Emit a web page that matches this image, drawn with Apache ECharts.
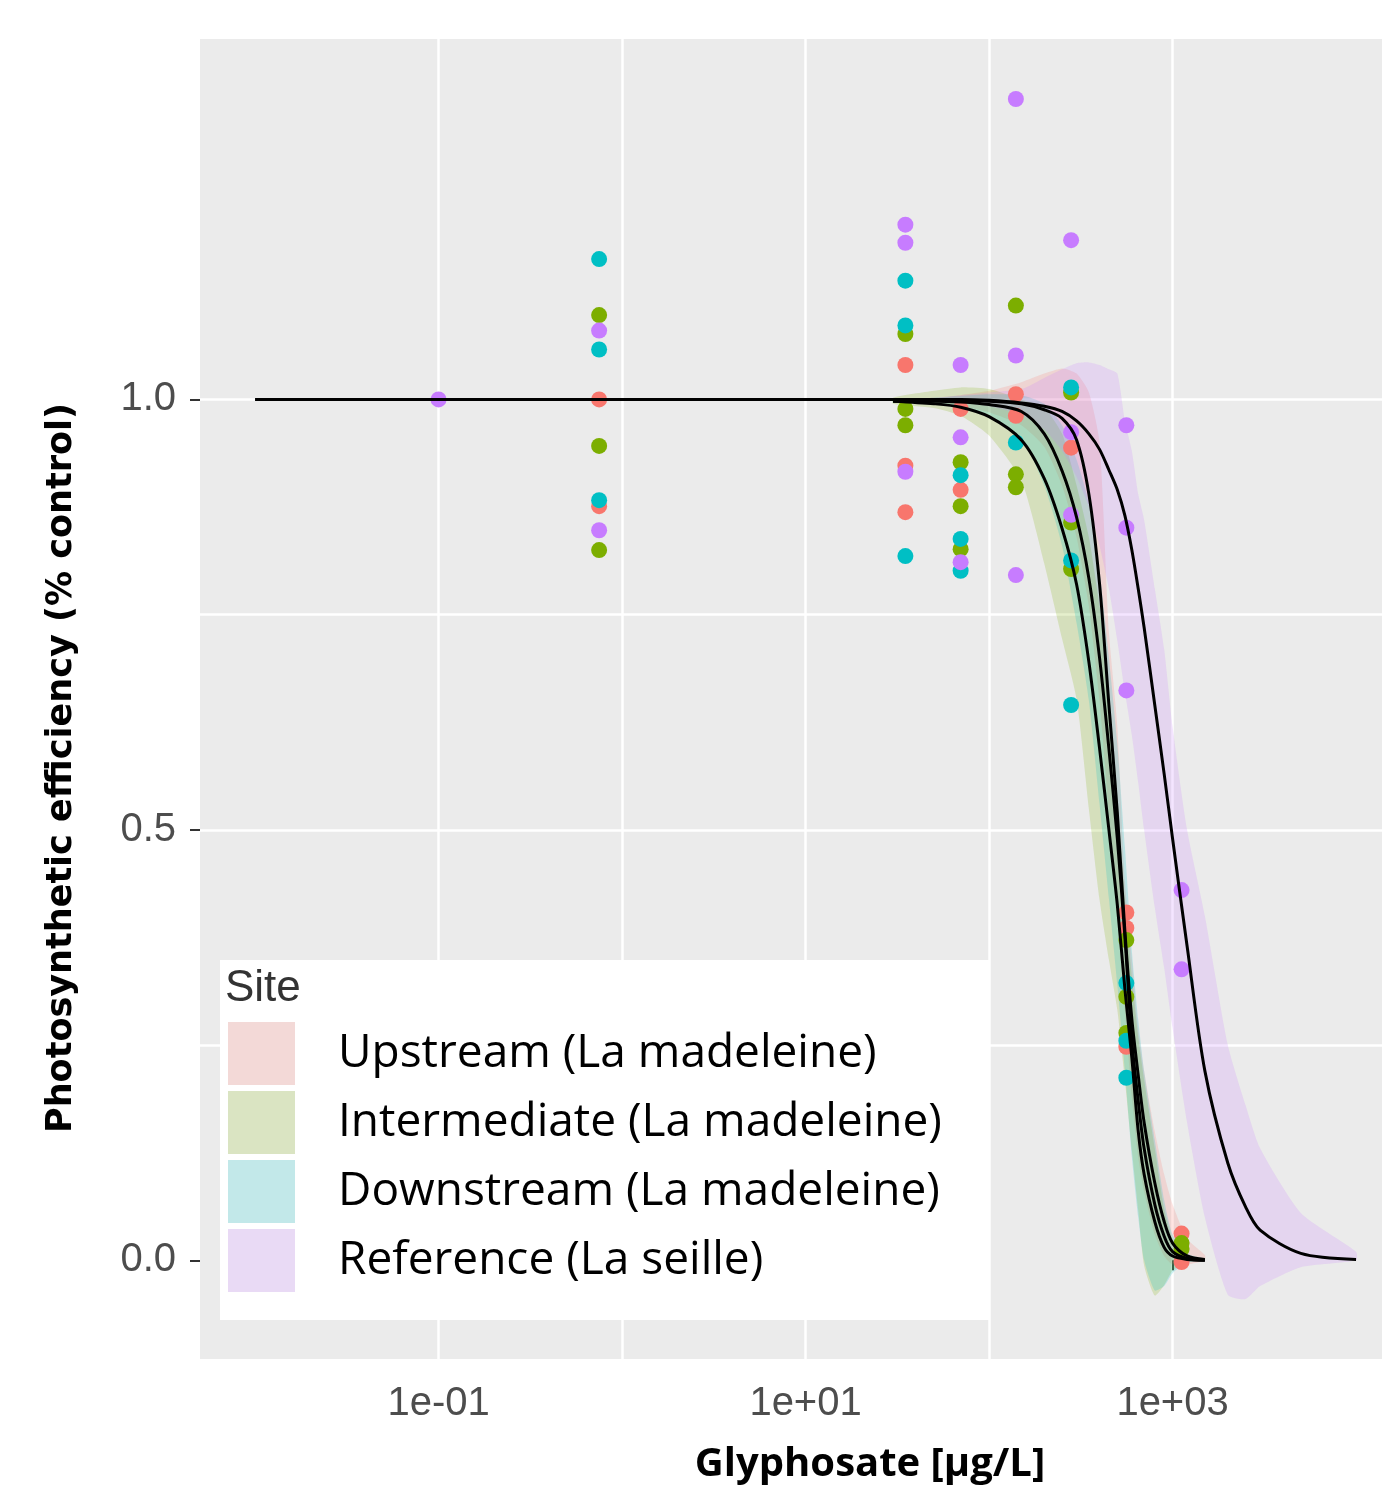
<!DOCTYPE html>
<html>
<head>
<meta charset="utf-8">
<script src="https://cdn.jsdelivr.net/npm/echarts@6/dist/echarts.min.js"></script>
<style>html,body{margin:0;padding:0;background:#fff}#c{width:1382px;height:1486px}</style>
</head>
<body>
<div id="c"></div>
<script>
// ---------- data ----------
const siteNames = ['Upstream (La madeleine)', 'Intermediate (La madeleine)', 'Downstream (La madeleine)', 'Reference (La seille)'];

// observed points [concentration µg/L, efficiency]
const pointsUpstream = [[0.75,1.000],[0.75,0.876],[35,1.040],[35,0.923],[35,0.869],[70,0.989],[70,0.895],[140,1.006],[140,0.981],[280,0.944],[560,0.404],[560,0.386],[560,0.248],[1120,0.031],[1120,-0.002]];
const pointsIntermediate = [[0.75,1.098],[0.75,0.946],[0.75,0.825],[35,1.076],[35,0.989],[35,0.970],[70,0.927],[70,0.876],[70,0.826],[140,1.109],[140,0.913],[140,0.898],[280,1.008],[280,0.857],[280,0.803],[560,0.372],[560,0.306],[560,0.264],[1120,0.020],[1120,0.013]];
const pointsDownstream = [[0.75,1.163],[0.75,1.058],[0.75,0.883],[35,1.138],[35,1.086],[35,0.818],[70,0.912],[70,0.838],[70,0.801],[140,0.950],[280,1.014],[280,0.813],[280,0.645],[560,0.322],[560,0.255],[560,0.212]];
const pointsReference = [[0.1,1.000],[0.75,1.080],[0.75,0.848],[35,1.203],[35,1.182],[35,0.916],[70,1.040],[70,0.956],[70,0.811],[140,1.349],[140,1.051],[140,0.796],[280,1.185],[280,0.962],[280,0.866],[560,0.970],[560,0.851],[560,0.662],[1120,0.430],[1120,0.338]];

// fitted curves and confidence bands
const curveConc = [30,50,70,100,150,200,250,300,350,400,450,500,550,600,650,700,800,900,1000,1200,1500];
const fitUpstream     = [0.999,0.999,0.999,0.998,0.995,0.988,0.978,0.953,0.890,0.786,0.645,0.520,0.382,0.280,0.215,0.160,0.090,0.045,0.020,0.005,0.001];
const bandUpstreamLo  = [0.998,0.996,0.993,0.985,0.970,0.945,0.900,0.840,0.760,0.650,0.520,0.400,0.290,0.190,0.120,0.080,0.030,0.005,-0.005,-0.005,0.000];
const bandUpstreamHi  = [1.000,1.002,1.005,1.010,1.020,1.030,1.036,1.030,1.008,0.950,0.730,0.620,0.440,0.350,0.270,0.220,0.150,0.100,0.065,0.025,0.006];
const fitIntermediate    = [0.998,0.995,0.991,0.980,0.953,0.908,0.850,0.785,0.695,0.595,0.500,0.413,0.315,0.235,0.150,0.100,0.045,0.015,0.005,0.001,0.000];
const bandIntermediateLo = [0.995,0.990,0.981,0.958,0.906,0.809,0.722,0.652,0.524,0.419,0.349,0.291,0.209,0.128,0.058,-0.006,-0.041,-0.029,-0.012,-0.002,0.000];
const bandIntermediateHi = [1.002,1.010,1.014,1.012,1.000,0.990,0.960,0.900,0.840,0.760,0.660,0.540,0.420,0.330,0.260,0.210,0.130,0.060,0.025,0.005,0.001];
const fitDownstream    = [0.998,0.998,0.997,0.994,0.986,0.960,0.917,0.863,0.792,0.700,0.594,0.490,0.376,0.255,0.185,0.130,0.065,0.028,0.010,0.002,0.000];
const bandDownstreamLo = [0.996,0.994,0.990,0.982,0.955,0.900,0.830,0.740,0.650,0.530,0.420,0.320,0.220,0.120,0.050,0.000,-0.035,-0.030,-0.015,-0.003,0.000];
const bandDownstreamHi = [1.000,1.002,1.004,1.006,1.005,0.995,0.970,0.930,0.880,0.800,0.700,0.600,0.480,0.360,0.280,0.220,0.140,0.070,0.030,0.008,0.002];

const refCurveConc = [0.01,30,50,70,100,150,200,250,300,350,400,450,500,550,600,650,700,800,900,1000,1200,1500,2000,2500,3000,5000,10000];
const fitReference    = [1.000,1.000,1.000,1.000,0.999,0.996,0.992,0.986,0.975,0.960,0.942,0.918,0.895,0.865,0.825,0.780,0.735,0.645,0.565,0.490,0.365,0.220,0.113,0.062,0.035,0.008,0.001];
const bandReferenceLo = [1.000,0.999,0.998,0.996,0.992,0.982,0.965,0.940,0.910,0.875,0.830,0.780,0.720,0.660,0.610,0.555,0.500,0.410,0.340,0.270,0.160,0.050,-0.040,-0.045,-0.030,-0.008,0.000];
const bandReferenceHi = [1.000,1.000,1.002,1.005,1.008,1.012,1.025,1.035,1.042,1.043,1.040,1.035,1.030,0.975,0.940,0.890,0.860,0.780,0.710,0.620,0.500,0.400,0.250,0.180,0.130,0.055,0.010];

// axes
const xGridValues = [0.01,0.1,1,10,100,1000,10000];
const xTickValues = [0.1,10,1000];
const xTickLabels = ['1e-01','1e+01','1e+03'];
const yGridValues = [0,0.25,0.5,0.75,1.0,1.25];
const yTickValues = [0,0.5,1.0];
const yTickLabels = ['0.0','0.5','1.0'];

// ---------- styling ----------
const siteColors = ['#F8766D','#7CAE00','#00BFC4','#C77CFF'];
const bandColors = ['rgba(248,118,109,0.2)','rgba(124,174,0,0.2)','rgba(0,191,196,0.2)','rgba(199,124,255,0.2)'];
const keyColors = ['#F3D9D7','#DAE4C2','#C2E8E9','#E9DAF5'];

// the panel runs past the right edge of the picture, so the visible axis ends at 10^4.14
const X_MIN = Math.pow(10,-2.3), X_MAX = Math.pow(10,4.1414);
const Y_MIN = -0.1147, Y_MAX = 1.4187;

const pointSets = [pointsUpstream, pointsIntermediate, pointsDownstream, pointsReference];
const bands = [
  [curveConc, bandUpstreamLo, bandUpstreamHi],
  [curveConc, bandIntermediateLo, bandIntermediateHi],
  [curveConc, bandDownstreamLo, bandDownstreamHi],
  [refCurveConc, bandReferenceLo, bandReferenceHi]
];
const fits = [
  [curveConc, fitUpstream],
  [curveConc, fitIntermediate],
  [curveConc, fitDownstream],
  [refCurveConc, fitReference]
];

const series = [];
pointSets.forEach((pts, i) => {
  series.push({
    type: 'scatter', name: siteNames[i], data: pts,
    symbol: 'circle', symbolSize: 16,
    itemStyle: { color: siteColors[i], opacity: 1 },
    silent: true
  });
});
bands.forEach((b, i) => {
  const conc = b[0], lo = b[1], hi = b[2];
  series.push({
    type: 'custom', name: siteNames[i],
    data: conc.map((c, k) => [c, lo[k], hi[k]]),
    encode: { x: 0, y: [1, 2] },
    silent: true,
    renderItem: function (params, api) {
      if (params.dataIndex !== 0) return null;
      const pts = [];
      for (let k = 0; k < conc.length; k++) pts.push(api.coord([conc[k], hi[k]]));
      for (let k = conc.length - 1; k >= 0; k--) pts.push(api.coord([conc[k], lo[k]]));
      return { type: 'polygon', shape: { points: pts, smooth: 0.2 }, style: { fill: bandColors[i] } };
    }
  });
});
fits.forEach((f, i) => {
  series.push({
    type: 'line', name: 'fit ' + siteNames[i],
    data: f[0].map((c, k) => [c, f[1][k]]),
    showSymbol: false, smooth: 0.3,
    lineStyle: { color: '#000', width: 3 },
    silent: true
  });
});

const tickFont = { fontFamily: 'Liberation Sans', fontSize: 40, color: '#4D4D4D' };

const option = {
  animation: false,
  backgroundColor: '#fff',
  grid: { left: 200, top: 39, right: 0, bottom: 127, show: true, backgroundColor: '#EBEBEB', borderWidth: 0 },
  xAxis: [
    { type: 'log', logBase: 10, min: X_MIN, max: X_MAX, position: 'bottom',
      axisLine: { show: false }, axisLabel: { show: false },
      axisTick: { show: false, customValues: xGridValues },
      splitLine: { show: true, showMinLine: false, showMaxLine: false, lineStyle: { color: '#FFFFFF', width: 2.5 } } },
    { type: 'log', logBase: 10, min: X_MIN, max: X_MAX, position: 'bottom',
      axisLine: { show: false },
      axisTick: { show: true, customValues: xTickValues, length: 10, lineStyle: { color: '#333', width: 2 } },
      axisLabel: Object.assign({ customValues: xTickValues, margin: 25,
        formatter: v => { const k = xTickValues.findIndex(t => Math.abs(Math.log10(t) - Math.log10(v)) < 1e-6); return k >= 0 ? xTickLabels[k] : ''; } }, tickFont),
      splitLine: { show: false } }
  ],
  yAxis: [
    { type: 'value', min: Y_MIN, max: Y_MAX, position: 'left',
      axisLine: { show: false }, axisLabel: { show: false },
      axisTick: { show: false, customValues: yGridValues },
      splitLine: { show: true, showMinLine: false, showMaxLine: false, lineStyle: { color: '#FFFFFF', width: 2.5 } } },
    { type: 'value', min: Y_MIN, max: Y_MAX, position: 'left',
      axisLine: { show: false },
      axisTick: { show: true, customValues: yTickValues, length: 10, lineStyle: { color: '#333', width: 2 } },
      axisLabel: Object.assign({ customValues: yTickValues, margin: 24,
        formatter: v => { const k = yTickValues.findIndex(t => Math.abs(t - v) < 1e-6); return k >= 0 ? yTickLabels[k] : ''; } }, tickFont),
      splitLine: { show: false } }
  ],
  legend: {
    orient: 'vertical', left: 228, top: 1022, padding: 0,
    itemWidth: 67, itemHeight: 63, itemGap: 6, icon: 'rect',
    selectedMode: false,
    textStyle: { fontFamily: 'Open Sans', fontSize: 46, color: '#000', padding: [8, 0, 0, 38] },
    data: siteNames.map((n, i) => ({ name: n, itemStyle: { color: keyColors[i], borderWidth: 0, opacity: 1 } }))
  },
  graphic: [
    { type: 'rect', z: 3, shape: { x: 220, y: 960, width: 770, height: 360 }, style: { fill: '#FFFFFF' } },
    { type: 'text', z: 5, x: 225, y: 989, style: { text: 'Site', font: '44px "Liberation Sans"', fill: '#333', textVerticalAlign: 'middle' } },
    { type: 'text', z: 5, x: 62, y: 768, rotation: Math.PI / 2,
      style: { text: 'Photosynthetic efficiency (% control)', font: 'bold 35px "DejaVu Sans"', fill: '#000', textAlign: 'center', textVerticalAlign: 'middle' } },
    { type: 'text', z: 5, x: 870, y: 1465,
      style: { text: 'Glyphosate [µg/L]', font: 'bold 40px "Open Sans"', fill: '#000', textAlign: 'center', textVerticalAlign: 'middle' } }
  ],
  series: series
};

const chart = echarts.init(document.getElementById('c'), null, { renderer: 'canvas' });
chart.setOption(option);
</script>
</body>
</html>
